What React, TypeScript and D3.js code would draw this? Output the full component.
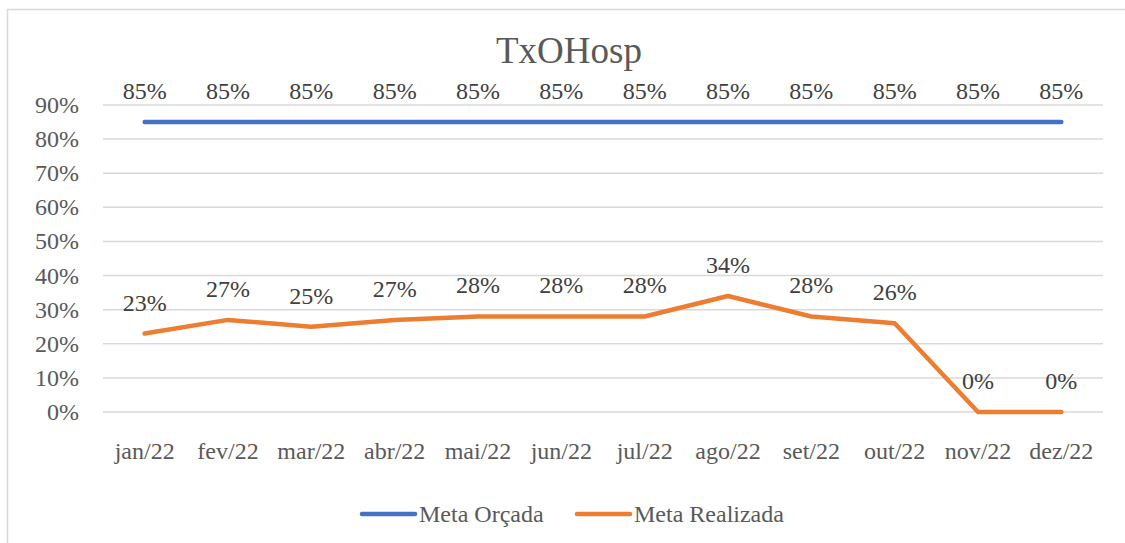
import React, { useEffect, useRef } from 'react';
import * as d3 from 'd3';

const months = ['jan/22', 'fev/22', 'mar/22', 'abr/22', 'mai/22', 'jun/22', 'jul/22', 'ago/22', 'set/22', 'out/22', 'nov/22', 'dez/22'];
const metaOrcada = [85, 85, 85, 85, 85, 85, 85, 85, 85, 85, 85, 85];
const metaRealizada = [23, 27, 25, 27, 28, 28, 28, 34, 28, 26, 0, 0];
const yTicks = [0, 10, 20, 30, 40, 50, 60, 70, 80, 90];

const App = () => {
  const chartRef = useRef<SVGSVGElement>(null);

  useEffect(() => {
    const width = 1125;
    const height = 543;
    const font = 'Liberation Serif';
    const textColor = '#595959';

    const svg = d3.select(chartRef.current);
    svg.selectAll('*').remove();
    svg.attr('width', width).attr('height', height)
      .style('font-family', font);

    // chart frame
    svg.append('rect')
      .attr('x', 7.5).attr('y', 9.5)
      .attr('width', 1140).attr('height', 560)
      .attr('fill', '#fff').attr('stroke', '#d9d9d9').attr('stroke-width', 1.5);

    svg.append('text')
      .attr('x', 569).attr('y', 63)
      .attr('text-anchor', 'middle')
      .attr('font-size', 37)
      .attr('fill', textColor)
      .text('TxOHosp');

    const x = d3.scaleBand().domain(months).range([103, 1103]);
    const y = d3.scaleLinear().domain([0, 90]).range([412, 105]);

    // gridlines
    svg.append('g')
      .selectAll('line')
      .data(yTicks)
      .enter()
      .append('line')
      .attr('x1', 103).attr('x2', 1103)
      .attr('y1', d => y(d)).attr('y2', d => y(d))
      .attr('stroke', '#d9d9d9').attr('stroke-width', 1.5);

    // y labels
    svg.append('g')
      .selectAll('text')
      .data(yTicks)
      .enter()
      .append('text')
      .attr('x', 79).attr('y', d => y(d) + 8)
      .attr('text-anchor', 'end')
      .attr('font-size', 24)
      .attr('fill', textColor)
      .text(d => d + '%');

    // x labels
    svg.append('g')
      .selectAll('text')
      .data(months)
      .enter()
      .append('text')
      .attr('x', d => x(d)! + x.bandwidth() / 2).attr('y', 459)
      .attr('text-anchor', 'middle')
      .attr('font-size', 24)
      .attr('fill', textColor)
      .text(d => d);

    const series = [
      { name: 'Meta Orçada', values: metaOrcada, color: '#4472C4' },
      { name: 'Meta Realizada', values: metaRealizada, color: '#ED7D31' },
    ];

    const line = d3.line<number>()
      .x((d, i) => x(months[i])! + x.bandwidth() / 2)
      .y(d => y(d));

    series.forEach(s => {
      svg.append('path')
        .attr('d', line(s.values))
        .attr('fill', 'none')
        .attr('stroke', s.color)
        .attr('stroke-width', 4.5)
        .attr('stroke-linecap', 'round')
        .attr('stroke-linejoin', 'round');

      svg.append('g')
        .selectAll('text')
        .data(s.values)
        .enter()
        .append('text')
        .attr('x', (d, i) => x(months[i])! + x.bandwidth() / 2)
        .attr('y', d => y(d) - 23)
        .attr('text-anchor', 'middle')
        .attr('font-size', 24)
        .attr('fill', '#404040')
        .text(d => d + '%');
    });

    // legend
    const legendX = [362, 577];
    series.forEach((s, i) => {
      const g = svg.append('g').attr('transform', `translate(${legendX[i]}, 514)`);
      g.append('line')
        .attr('x1', 0).attr('x2', 53).attr('y1', 0).attr('y2', 0)
        .attr('stroke', s.color).attr('stroke-width', 4.5)
        .attr('stroke-linecap', 'round');
      g.append('text')
        .attr('x', 57).attr('y', 8)
        .attr('font-size', 24)
        .attr('fill', textColor)
        .text(s.name);
    });
  }, []);

  return (
    <svg ref={chartRef} style={{ position: 'absolute', left: 0, top: 0 }} />
  );
};

export default App;
